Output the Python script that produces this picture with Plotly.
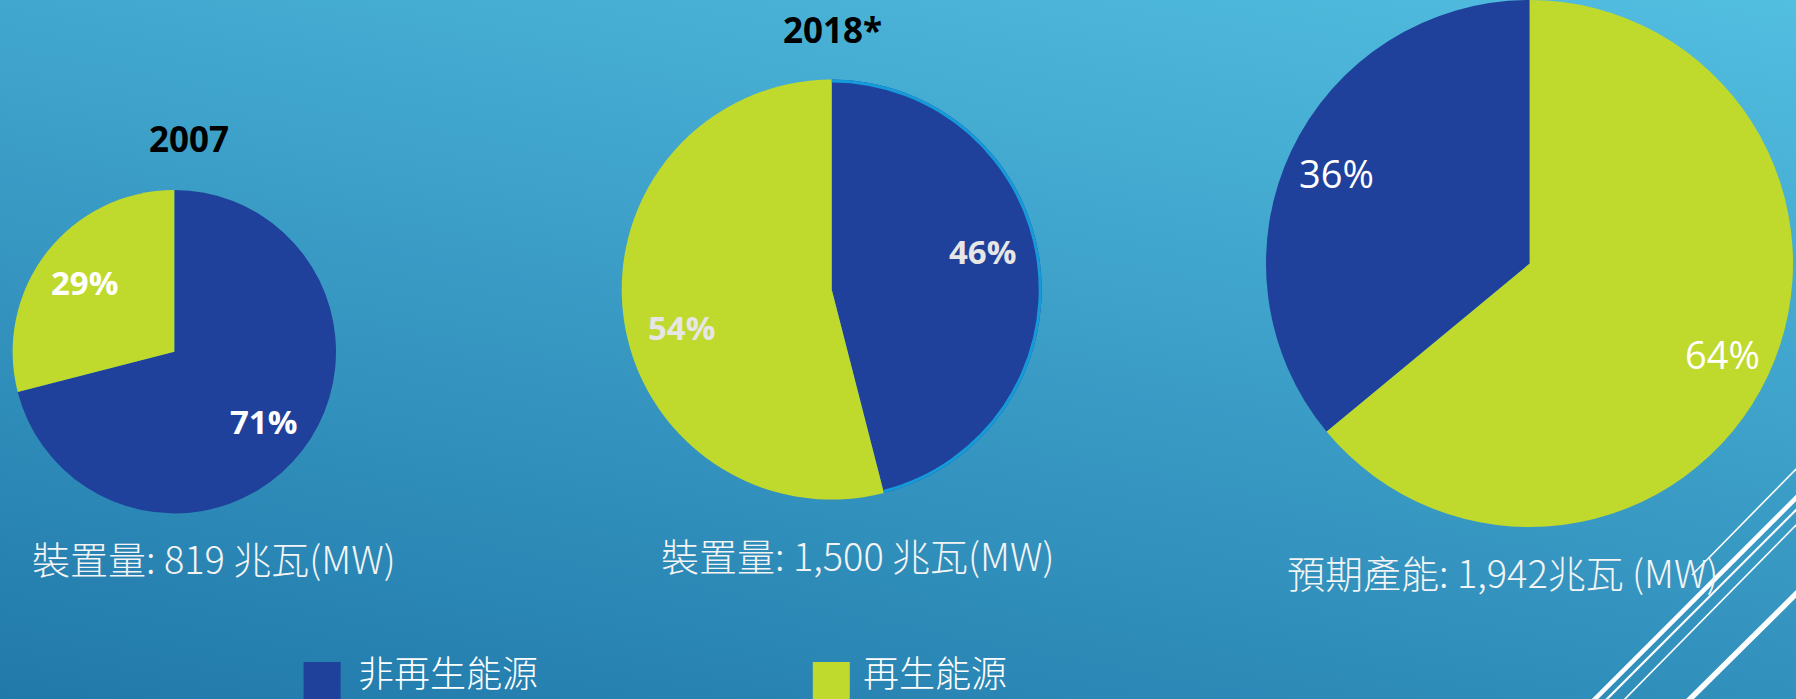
import base64
import math
import plotly.graph_objects as go

# ---------------- data ----------------
categories = ["非再生能源", "再生能源"]
titles = ["2007", "2018*", ""]
shares_2007 = [71, 29]
shares_2018 = [46, 54]
shares_future = [36, 64]
captions = ["裝置量: 819 兆瓦(MW)", "裝置量: 1,500 兆瓦(MW)", "預期產能: 1,942兆瓦 (MW)"]

# ---------------- style ----------------
W, H = 1796, 699
NAVY = "#1F419B"
LIME = "#C0D92D"
RING = "#169BDA"
colors = [NAVY, LIME]
NUM_FONT = "Open Sans"
CJK_FONT = "Noto Sans CJK TC"

pie_styles = [
    dict(values=shares_2007, cx=174.3, cy=351.7, r=161.7, reverse=False,
         k=0.70, shift=0, txtcolor="#FFFFFF", weight="bold", size=33, title_xy=(189, 138),
         cap_xy=(213.5, 557), ring=False),
    dict(values=shares_2018, cx=831.7, cy=289.6, r=210.0, reverse=False,
         k=0.74, shift=-7, txtcolor="#E6E6E6", weight="bold", size=33, title_xy=(832, 30),
         cap_xy=(857.5, 554), ring=True),
    dict(values=shares_future, cx=1529.5, cy=263.5, r=263.5, reverse=True,
         k=0.81, shift=0, txtcolor="#FFFFFF", weight="normal", size=38, title_xy=(1533, 30),
         cap_xy=(1503, 571), ring=False),
]


def clamp(v):
    return min(1.0, max(0.0, v))


def domain(cx, cy, r):
    return dict(x=[clamp((cx - r) / W), clamp((cx + r) / W)],
                y=[clamp(1 - (cy + r) / H), clamp(1 - (cy - r) / H)])


fig = go.Figure()
annotations = []

for i, st in enumerate(pie_styles):
    dom = domain(st["cx"], st["cy"], st["r"])
    labs, vals, cols = list(categories), list(st["values"]), list(colors)
    if st["reverse"]:
        labs, vals, cols = labs[::-1], vals[::-1], cols[::-1]
    fig.add_trace(go.Pie(
        labels=labs, values=vals, sort=False,
        direction="clockwise", rotation=0,
        marker=dict(colors=cols, line=dict(width=0)),
        textinfo="none", hoverinfo="label+percent",
        domain=dom, showlegend=False,
    ))
    if st["ring"]:
        ring_w = 3.0
        ring_cols = [RING if c == NAVY else "rgba(0,0,0,0)" for c in cols]
        fig.add_trace(go.Pie(
            labels=labs, values=vals, sort=False,
            direction="clockwise", rotation=0, hole=1 - ring_w / st["r"],
            marker=dict(colors=ring_cols, line=dict(width=0)),
            textinfo="none", hoverinfo="skip", domain=dom, showlegend=False,
        ))
    # percentage labels, placed along each slice's mid-angle
    total = sum(vals)
    start = 0.0
    for v in vals:
        span = 360.0 * v / total
        mid = start + span / 2 + st["shift"]
        start += span
        a = math.radians(mid)
        px = st["cx"] + st["k"] * st["r"] * math.sin(a)
        py = st["cy"] - st["k"] * st["r"] * math.cos(a)
        annotations.append(dict(
            x=px / W, y=1 - py / H, xref="paper", yref="paper",
            text=f"{v / total:.0%}", showarrow=False,
            xanchor="center", yanchor="middle",
            font=dict(family=NUM_FONT, size=st["size"], color=st["txtcolor"], weight=st["weight"]),
        ))
    # titles
    if titles[i]:
        tx, ty = st["title_xy"]
        annotations.append(dict(
            x=tx / W, y=1 - ty / H, xref="paper", yref="paper", text=titles[i],
            showarrow=False, xanchor="center", yanchor="middle",
            font=dict(family=NUM_FONT, size=35, color="#000000", weight="bold"),
        ))
    # captions
    capx, capy = st["cap_xy"]
    annotations.append(dict(
        x=capx / W, y=1 - capy / H, xref="paper", yref="paper", text=captions[i],
        showarrow=False, xanchor="center", yanchor="middle",
        font=dict(family=CJK_FONT, size=38, color="#F4F4F4", weight=300),
    ))

# ---------------- manual legend ----------------
shapes = []
legend_items = [(303.6, 356), (812.8, 861)]
for (sx, tx), name, col in zip(legend_items, categories, colors):
    shapes.append(dict(type="rect", xref="paper", yref="paper",
                       x0=sx / W, x1=(sx + 37) / W, y0=1 - 699 / H, y1=1 - 662 / H,
                       fillcolor=col, line=dict(width=0), layer="above"))
    annotations.append(dict(
        x=tx / W, y=0, xref="paper", yref="paper", text=name,
        showarrow=False, xanchor="left", yanchor="bottom",
        font=dict(family=CJK_FONT, size=36, color="#FFFFFF", weight=300),
    ))

# ---------------- background (gradient + decorative lines) ----------------
svg = f'''<svg xmlns="http://www.w3.org/2000/svg" width="{W}" height="{H}" viewBox="0 0 {W} {H}">
<defs><linearGradient id="g" gradientUnits="userSpaceOnUse" x1="0" y1="{H}" x2="195" y2="-310">
<stop offset="0" stop-color="rgb(33,121,170)"/><stop offset="1" stop-color="rgb(82,190,224)"/>
</linearGradient></defs>
<rect x="0" y="0" width="{W}" height="{H}" fill="url(#g)"/>
<g stroke="#FFFFFF" fill="none">
<line x1="1800" y1="465" x2="1692" y2="575" stroke-width="1.6"/>
<line x1="1800" y1="494" x2="1591" y2="703" stroke-width="4.5"/>
<line x1="1800" y1="506" x2="1603" y2="703" stroke-width="2.2"/>
<line x1="1800" y1="521" x2="1621" y2="703" stroke-width="1.6"/>
<line x1="1800" y1="590" x2="1686" y2="703" stroke-width="5.5"/>
</g>
</svg>'''
bg_src = "data:image/svg+xml;base64," + base64.b64encode(svg.encode("utf-8")).decode("ascii")

fig.update_layout(
    width=W, height=H, autosize=False,
    margin=dict(l=0, r=0, t=0, b=0, pad=0),
    paper_bgcolor="#2F93C3", plot_bgcolor="rgba(0,0,0,0)",
    showlegend=False,
    annotations=annotations,
    shapes=shapes,
    images=[dict(source=bg_src, xref="paper", yref="paper", x=0, y=1,
                 sizex=1, sizey=1, xanchor="left", yanchor="top",
                 sizing="stretch", layer="below")],
)

fig.write_html(
    "out.html",
    config={"displayModeBar": False},
    post_script="document.body.style.margin='0';document.body.style.overflow='hidden';",
)
